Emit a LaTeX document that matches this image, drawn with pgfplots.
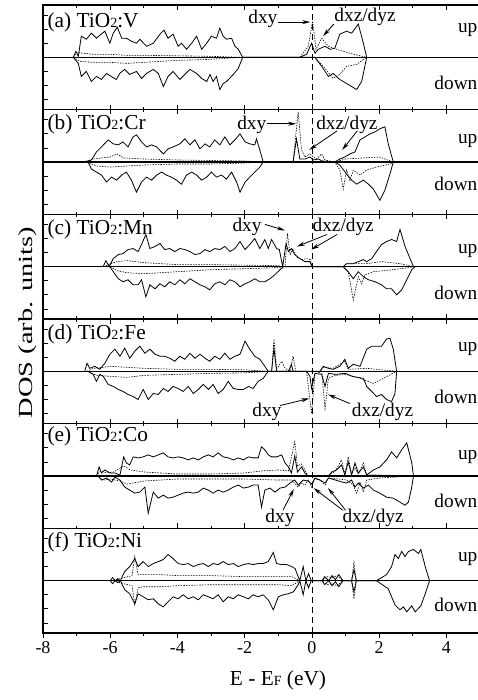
\documentclass[border=0pt]{standalone}
\usepackage{fontspec}
\setmainfont{Liberation Serif}
\usepackage{pgfplots}
\pgfplotsset{compat=1.18}
\usetikzlibrary{arrows.meta}
\newcommand{\sm}[1]{{\fontsize{10.5}{11}\selectfont #1}}
\newcommand{\lab}{\fontsize{16}{17}\selectfont}
\newcommand{\ud}{\fontsize{14.5}{15}\selectfont}
\newcommand{\ann}{\fontsize{14.5}{15}\selectfont}
\pgfplotsset{
  panel/.style={
    scale only axis, width=327.75pt, height=78.5pt,
    anchor=north west, clip=false,
    xmin=-8, xmax=5, ymin=-52, ymax=52,
    xtick={-8,-6,-4,-2,0,2,4}, minor xtick={-7,-5,-3,-1,1,3,5},
    xticklabels={},
    ytick={-42,-28,-14,0,14,28,42}, yticklabels={}, ytick pos=left,
    tick align=inside, major tick length=3.5pt, minor tick length=2pt,
    every tick/.style={black, line width=0.6pt},
    axis line style={line width=0.9pt},
  },
  tot/.style={black, line width=0.6pt, mark=none},
  par/.style={black, line width=0.45pt, dash pattern=on 1.1pt off 0.9pt, mark=none},
  zl/.style={black, line width=0.9pt, mark=none},
  vl/.style={black, line width=0.6pt, dash pattern=on 4.5pt off 3pt, mark=none},
}
\tikzset{arr/.style={-{Stealth[length=6pt,width=3pt]}, line width=0.6pt}}
\begin{document}
\begin{tikzpicture}
\useasboundingbox (0,0) rectangle (358.5pt,-525pt);

% (a) V
\begin{axis}[panel, at={(32.25pt,-3.75pt)}]
\addplot[zl] coordinates {(-8,0)(5,0)};
\addplot[vl] coordinates {(0,-52)(0,52)};
\addplot[tot] coordinates {(-7.10,0)(-7.02,6)(-6.95,1)(-6.86,21)(-6.71,18)(-6.56,24)(-6.41,19)(-6.31,22)(-6.16,26)(-6.01,14)(-5.91,24)(-5.79,30)(-5.66,19)(-5.52,19)(-5.37,16)(-5.22,14)(-5.12,18)(-4.92,11)(-4.72,14)(-4.52,23)(-4.40,27)(-4.28,19)(-4.13,23)(-3.98,11)(-3.88,14)(-3.73,8)(-3.58,14)(-3.43,21)(-3.28,8)(-3.13,14)(-2.99,21)(-2.84,19)(-2.74,29)(-2.64,21)(-2.54,18)(-2.39,19)(-2.29,11)(-2.19,8)(-2.06,0)(-0.36,0)(-0.16,3)(-0.01,14)(0.09,4)(0.19,8)(0.39,11)(0.54,8)(0.68,9)(0.83,23)(1.03,26)(1.18,24)(1.38,33)(1.53,14)(1.63,0)};
\addplot[tot] coordinates {(-7.10,0)(-6.95,-6)(-6.86,-19)(-6.71,-14)(-6.56,-24)(-6.41,-19)(-6.26,-22)(-6.11,-16)(-5.97,-19)(-5.82,-22)(-5.72,-16)(-5.57,-12)(-5.42,-17)(-5.22,-14)(-5.07,-21)(-4.92,-16)(-4.72,-12)(-4.57,-16)(-4.42,-29)(-4.28,-19)(-4.13,-14)(-3.93,-22)(-3.78,-17)(-3.63,-12)(-3.43,-16)(-3.28,-21)(-3.13,-24)(-3.03,-17)(-2.94,-24)(-2.84,-19)(-2.74,-32)(-2.64,-26)(-2.54,-24)(-2.34,-17)(-2.19,-11)(-2.06,0)(0.09,0)(0.29,-9)(0.49,-19)(0.63,-16)(0.83,-22)(1.08,-27)(1.33,-32)(1.48,-24)(1.63,0)};
\addplot[par] coordinates {(-7.10,0)(-7.0,5)(-6.8,4)(-6.5,3)(-6.0,3)(-5.5,2)(-5,2)(-4,1.5)(-3,1)(-2.1,0)(-0.36,0)(-0.11,11)(0.02,36)(0.12,8)(0.29,19)(0.49,11)(0.73,8)(1.13,4)(1.63,0)};
\addplot[par] coordinates {(-7.10,0)(-6.9,-4)(-6.5,-5)(-6.0,-5)(-5.5,-6)(-5.0,-5)(-4.5,-4)(-4,-3)(-3,-2)(-2.1,0)(0.09,0)(0.39,-11)(0.63,-21)(0.83,-17)(1.03,-9)(1.33,-7)(1.63,0)};
\node[anchor=north west, inner sep=0pt, font=\lab] at (rel axis cs:0.01,0.93) {(a) TiO\sm{2}:V};
\node[anchor=base east, inner sep=0pt, font=\ud] at (axis cs:4.93,25) {up};
\node[anchor=base east, inner sep=0pt, font=\ud] at (axis cs:4.93,-32) {down};
\node[font=\ann, inner sep=0pt] at (axis cs:-1.46,38) {dxy};
\draw[arr] (axis cs:-1.0,35) -- (axis cs:-0.05,35);
\node[font=\ann, inner sep=0pt] at (axis cs:1.58,40) {dxz/dyz};
\draw[arr] (axis cs:0.65,33) -- (axis cs:0.33,21);
\end{axis}

% (b) Cr
\begin{axis}[panel, at={(32.25pt,-82.25pt)}]
\addplot[zl] coordinates {(-8,0)(5,0)};
\addplot[vl] coordinates {(0,-52)(0,52)};
\addplot[tot] coordinates {(-6.76,0)(-6.56,2)(-6.41,10)(-6.26,15)(-6.06,22)(-5.91,18)(-5.76,17)(-5.62,20)(-5.47,15)(-5.32,25)(-5.22,27)(-5.07,20)(-4.92,15)(-4.77,17)(-4.62,15)(-4.42,8)(-4.28,13)(-4.13,15)(-3.93,18)(-3.78,23)(-3.63,17)(-3.48,22)(-3.33,13)(-3.18,18)(-3.04,15)(-2.89,22)(-2.74,17)(-2.59,25)(-2.44,17)(-2.29,22)(-2.14,28)(-1.99,20)(-1.85,18)(-1.70,17)(-1.65,23)(-1.55,12)(-1.45,0)(-0.56,0)(-0.46,23)(-0.36,3)(-0.21,3)(-0.06,5)(0.04,2)(0.2,3)(0.3,1)(0.68,0)(0.83,3)(0.98,5)(1.13,8)(1.28,10)(1.43,22)(1.58,25)(1.73,28)(1.88,30)(2.02,33)(2.17,35)(2.27,18)(2.42,0)};
\addplot[tot] coordinates {(-6.66,0)(-6.56,-7)(-6.41,-10)(-6.26,-13)(-6.11,-20)(-5.96,-15)(-5.81,-18)(-5.66,-13)(-5.52,-10)(-5.37,-18)(-5.22,-30)(-5.07,-20)(-4.92,-15)(-4.77,-18)(-4.62,-13)(-4.47,-10)(-4.33,-13)(-4.18,-15)(-4.03,-18)(-3.88,-22)(-3.73,-13)(-3.58,-10)(-3.43,-13)(-3.28,-18)(-3.13,-15)(-2.99,-10)(-2.84,-15)(-2.69,-13)(-2.54,-17)(-2.39,-10)(-2.24,-20)(-2.14,-30)(-1.99,-20)(-1.85,-15)(-1.70,-10)(-1.55,-5)(-1.45,0)(0.68,0)(0.83,-3)(1.03,-12)(1.18,-18)(1.33,-22)(1.53,-18)(1.68,-22)(1.83,-27)(2.02,-38)(2.17,-28)(2.32,-12)(2.42,0)};
\addplot[par] coordinates {(-6.8,0)(-6.5,3)(-6,5)(-5.8,8)(-5.6,4)(-5,3)(-4,2)(-3,1.5)(-2,1)(-1.45,0)(-0.56,0)(-0.41,50)(-0.31,12)(-0.21,5)(-0.06,8)(0.04,5)(0.14,3)(0.29,8)(0.39,2)(0.68,0)(1.0,3)(1.5,4)(2.0,5)(2.42,0)};
\addplot[par] coordinates {(-6.7,0)(-6.4,-4)(-6,-5)(-5.5,-4)(-5,-3)(-4,-2)(-3,-2)(-2,-1)(-1.45,0)(0.68,0)(0.83,-8)(0.93,-27)(1.03,-8)(1.13,-18)(1.23,-8)(1.43,-13)(1.63,-8)(1.92,-5)(2.32,-2)(2.42,0)};
\node[anchor=north west, inner sep=0pt, font=\lab] at (rel axis cs:0.01,0.955) {(b) TiO\sm{2}:Cr};
\node[anchor=base east, inner sep=0pt, font=\ud] at (axis cs:4.93,18) {up};
\node[anchor=base east, inner sep=0pt, font=\ud] at (axis cs:4.93,-28) {down};
\node[font=\ann, inner sep=0pt] at (axis cs:-1.79,37) {dxy};
\draw[arr] (axis cs:-1.34,38) -- (axis cs:-0.47,38);
\node[font=\ann, inner sep=0pt] at (axis cs:1.04,37) {dxz/dyz};
\draw[arr] (axis cs:0.75,31) -- (axis cs:-0.08,12);
\draw[arr] (axis cs:1.35,31) -- (axis cs:0.9,12);
\end{axis}

% (c) Mn
\begin{axis}[panel, at={(32.25pt,-160.75pt)}]
\addplot[zl] coordinates {(-8,0)(5,0)};
\addplot[vl] coordinates {(0,-52)(0,52)};
\addplot[tot] coordinates {(-6.21,0)(-6.13,6)(-6.03,0)(-5.91,8)(-5.76,12)(-5.62,13)(-5.47,17)(-5.32,18)(-5.17,15)(-5.07,22)(-4.94,32)(-4.82,18)(-4.67,20)(-4.52,23)(-4.38,17)(-4.23,18)(-4.08,15)(-3.93,18)(-3.78,17)(-3.63,15)(-3.48,12)(-3.33,13)(-3.18,17)(-3.04,15)(-2.89,18)(-2.74,17)(-2.59,20)(-2.44,15)(-2.29,18)(-2.14,25)(-1.99,17)(-1.85,22)(-1.70,28)(-1.55,18)(-1.40,27)(-1.30,18)(-1.20,27)(-1.05,18)(-0.97,17)(-0.87,0)(-0.77,23)(-0.70,15)(-0.61,18)(-0.51,12)(-0.36,8)(-0.21,5)(-0.06,5)(0,0)(0.93,0)(1.03,3)(1.23,3)(1.38,5)(1.53,7)(1.63,5)(1.78,8)(1.92,15)(2.07,22)(2.22,25)(2.37,27)(2.52,25)(2.62,37)(2.77,20)(2.92,8)(3.02,0)};
\addplot[tot] coordinates {(-6.01,0)(-5.91,-5)(-5.76,-12)(-5.62,-15)(-5.47,-13)(-5.32,-18)(-5.17,-18)(-5.07,-13)(-4.94,-30)(-4.82,-18)(-4.67,-22)(-4.52,-17)(-4.38,-20)(-4.23,-15)(-4.08,-18)(-3.93,-13)(-3.78,-17)(-3.63,-12)(-3.48,-15)(-3.33,-18)(-3.18,-20)(-3.04,-23)(-2.89,-17)(-2.74,-15)(-2.59,-18)(-2.44,-13)(-2.29,-15)(-2.14,-20)(-1.99,-17)(-1.85,-15)(-1.70,-12)(-1.55,-15)(-1.40,-15)(-1.25,-12)(-1.10,-8)(-0.95,-3)(-0.85,0)(0.93,0)(1.08,-5)(1.23,-12)(1.38,-5)(1.53,-10)(1.68,-13)(1.88,-15)(2.07,-18)(2.22,-22)(2.37,-22)(2.52,-28)(2.67,-23)(2.82,-13)(2.97,-3)(3.07,0)};
\addplot[par] coordinates {(-6.2,0)(-6.0,3)(-5.8,5)(-5.5,6)(-5.0,4)(-4.5,3)(-4,2)(-3,2)(-2,1.5)(-1,1)(-0.87,0)(-0.80,0)(-0.73,33)(-0.65,12)(-0.56,18)(-0.46,10)(-0.31,7)(-0.16,8)(-0.04,7)(0,0)(0.93,0)(1.03,3)(1.63,3)(2.07,5)(2.62,3)(3.02,0)};
\addplot[par] coordinates {(-6.0,0)(-5.8,-4)(-5.5,-6)(-5,-7)(-4.5,-6)(-4,-5)(-3,-3)(-2,-2)(-1,-1)(-0.85,0)(0.93,0)(1.08,-5)(1.23,-33)(1.38,-10)(1.48,-17)(1.58,-8)(1.83,-5)(2.42,-3)(3.07,0)};
\node[anchor=north west, inner sep=0pt, font=\lab] at (rel axis cs:0.01,0.955) {(c) TiO\sm{2}:Mn};
\node[anchor=base east, inner sep=0pt, font=\ud] at (axis cs:4.93,13) {up};
\node[anchor=base east, inner sep=0pt, font=\ud] at (axis cs:4.93,-33) {down};
\node[font=\ann, inner sep=0pt] at (axis cs:-1.93,40) {dxy};
\draw[arr] (axis cs:-1.4,42) -- (axis cs:-0.8,36);
\node[font=\ann, inner sep=0pt] at (axis cs:0.93,40) {dxz/dyz};
\draw[arr] (axis cs:0.45,32) -- (axis cs:-0.45,20);
\draw[arr] (axis cs:0.75,32) -- (axis cs:-0.02,17);
\end{axis}

% (d) Fe
\begin{axis}[panel, at={(32.25pt,-239.25pt)}]
\addplot[zl] coordinates {(-8,0)(5,0)};
\addplot[vl] coordinates {(0,-52)(0,52)};
\addplot[tot] coordinates {(-6.76,0)(-6.69,8)(-6.61,3)(-6.46,5)(-6.31,2)(-6.16,8)(-6.01,17)(-5.86,22)(-5.71,15)(-5.57,23)(-5.42,13)(-5.27,20)(-5.12,25)(-4.97,18)(-4.82,22)(-4.67,17)(-4.52,15)(-4.38,15)(-4.23,13)(-4.08,10)(-3.93,15)(-3.78,12)(-3.63,18)(-3.48,13)(-3.33,17)(-3.18,13)(-3.04,10)(-2.89,15)(-2.74,12)(-2.59,18)(-2.44,12)(-2.29,15)(-2.14,17)(-1.99,30)(-1.85,22)(-1.70,15)(-1.55,12)(-1.40,5)(-1.30,0)(-1.20,0)(-1.13,23)(-1.05,0)(-0.70,0)(-0.61,7)(-0.56,0)(0.24,0)(0.34,5)(0.49,3)(0.63,2)(0.83,5)(0.98,12)(1.08,3)(1.23,7)(1.43,5)(1.63,22)(1.78,25)(1.92,25)(2.07,25)(2.22,32)(2.32,33)(2.42,22)(2.52,0)};
\addplot[tot] coordinates {(-6.66,0)(-6.51,-3)(-6.41,-10)(-6.31,-3)(-6.21,-5)(-6.06,-13)(-5.91,-15)(-5.76,-18)(-5.62,-20)(-5.47,-23)(-5.32,-25)(-5.17,-28)(-5.02,-18)(-4.87,-28)(-4.72,-22)(-4.57,-23)(-4.42,-17)(-4.28,-20)(-4.13,-15)(-3.98,-17)(-3.83,-20)(-3.68,-15)(-3.53,-22)(-3.38,-18)(-3.23,-13)(-3.08,-18)(-2.94,-13)(-2.79,-22)(-2.64,-18)(-2.49,-10)(-2.34,-17)(-2.19,-18)(-2.04,-18)(-1.89,-15)(-1.75,-17)(-1.60,-10)(-1.45,-7)(-1.30,0)(-0.16,0)(-0.06,-5)(-0.01,-17)(0.09,-2)(0.29,-3)(0.39,-15)(0.49,-2)(0.7,-3)(1.0,-2)(1.2,-5)(1.53,-7)(1.63,-15)(1.78,-20)(1.92,-25)(2.07,-23)(2.22,-28)(2.37,-30)(2.47,-22)(2.52,0)};
\addplot[par] coordinates {(-6.7,0)(-6.5,3)(-6.2,4)(-6.0,5)(-5.5,4)(-5,3)(-4,2)(-3,2)(-2,1.5)(-1.3,0)(-1.20,0)(-1.13,32)(-1.05,2)(-0.9,10)(-0.8,3)(-0.65,0)(-0.56,15)(-0.48,0)(0.24,0)(0.34,4)(0.63,3)(0.98,10)(1.08,2)(1.63,3)(2.52,0)};
\addplot[par] coordinates {(-6.7,0)(-6.4,-4)(-6,-5)(-5.5,-6)(-5,-4)(-4,-3)(-3,-2)(-2,-1.5)(-1.3,0)(-0.16,0)(-0.01,-42)(0.09,-3)(0.29,0)(0.39,-37)(0.49,-7)(0.7,-4)(1.0,-3)(1.43,-7)(1.83,-12)(2.07,-8)(2.52,0)};
\node[anchor=north west, inner sep=0pt, font=\lab] at (rel axis cs:0.01,0.945) {(d) TiO\sm{2}:Fe};
\node[anchor=base east, inner sep=0pt, font=\ud] at (axis cs:4.93,20) {up};
\node[anchor=base east, inner sep=0pt, font=\ud] at (axis cs:4.93,-32) {down};
\node[font=\ann, inner sep=0pt] at (axis cs:-1.34,-40) {dxy};
\draw[arr] (axis cs:-0.95,-34) -- (axis cs:-0.08,-27);
\node[font=\ann, inner sep=0pt] at (axis cs:2.1,-40) {dxz/dyz};
\draw[arr] (axis cs:1.13,-32) -- (axis cs:0.48,-23);
\end{axis}

% (e) Co
\begin{axis}[panel, at={(32.25pt,-317.75pt)}]
\addplot[zl] coordinates {(-8,0)(5,0)};
\addplot[vl] coordinates {(0,-52)(0,52)};
\addplot[tot] coordinates {(-6.41,0)(-6.33,9)(-6.26,3)(-6.16,6)(-6.01,3)(-5.86,3)(-5.71,1)(-5.60,19)(-5.52,13)(-5.42,11)(-5.32,19)(-5.17,18)(-5.02,19)(-4.87,21)(-4.72,19)(-4.57,21)(-4.42,23)(-4.28,19)(-4.13,18)(-3.98,19)(-3.83,18)(-3.68,16)(-3.53,18)(-3.38,16)(-3.23,19)(-3.08,21)(-2.94,19)(-2.79,23)(-2.64,19)(-2.49,18)(-2.34,16)(-2.19,18)(-2.04,16)(-1.89,19)(-1.75,18)(-1.60,18)(-1.50,29)(-1.40,26)(-1.30,21)(-1.20,19)(-1.05,19)(-0.90,21)(-0.80,13)(-0.70,9)(-0.61,3)(-0.51,20)(-0.43,4)(-0.31,9)(-0.21,3)(-0.11,0)(0.49,0)(0.59,4)(0.73,6)(0.88,11)(0.98,1)(1.08,14)(1.18,1)(1.28,13)(1.38,3)(1.53,9)(1.63,1)(1.83,6)(2.02,9)(2.22,16)(2.37,24)(2.52,18)(2.67,26)(2.82,33)(2.97,13)(3.02,0)};
\addplot[tot] coordinates {(-6.36,0)(-6.26,-4)(-6.11,-2)(-5.96,-6)(-5.86,-1)(-5.71,-4)(-5.57,-11)(-5.42,-14)(-5.27,-17)(-5.12,-16)(-4.97,-11)(-4.87,-37)(-4.72,-16)(-4.57,-22)(-4.42,-19)(-4.28,-22)(-4.13,-21)(-3.98,-19)(-3.83,-17)(-3.68,-16)(-3.53,-17)(-3.38,-16)(-3.23,-12)(-3.08,-14)(-2.94,-17)(-2.79,-14)(-2.64,-16)(-2.49,-14)(-2.34,-11)(-2.19,-9)(-2.04,-12)(-1.89,-11)(-1.75,-9)(-1.60,-9)(-1.50,-31)(-1.40,-14)(-1.25,-12)(-1.10,-16)(-0.95,-12)(-0.80,-11)(-0.65,-7)(-0.51,-4)(-0.41,-9)(-0.26,-4)(-0.11,-5)(-0.01,-8)(0.09,-2)(0.24,-4)(0.39,-7)(0.49,-2)(0.7,-4)(0.9,-6)(1.03,-7)(1.18,-4)(1.28,-11)(1.38,-7)(1.53,-12)(1.68,-9)(1.83,-14)(2.02,-17)(2.22,-21)(2.42,-22)(2.62,-26)(2.77,-29)(2.87,-26)(2.97,-11)(3.02,0)};
\addplot[par] coordinates {(-6.4,0)(-6.3,5)(-6.1,3)(-5.9,4)(-5.6,10)(-5.4,6)(-5.0,4)(-4.5,3)(-4,2)(-3,2)(-2,3)(-1.5,5)(-1,6)(-0.7,5)(-0.51,34)(-0.43,10)(-0.31,12)(-0.11,0)(0.49,0)(0.7,5)(0.88,16)(0.98,2)(1.08,19)(1.18,2)(1.28,8)(1.38,2)(1.53,13)(1.63,1)(2.0,1)(3.02,0)};
\addplot[par] coordinates {(-6.4,0)(-6.2,-4)(-6,-3)(-5.7,-5)(-5.5,-8)(-5,-5)(-4.5,-4)(-4,-3)(-3,-3)(-2,-3)(-1,-4)(-0.6,-4)(-0.41,-11)(-0.31,-7)(-0.21,-9)(-0.11,-4)(-0.01,-11)(0.09,-3)(0.24,-4)(0.39,-9)(0.49,-2)(0.8,-3)(1.03,-4)(1.23,-9)(1.33,-17)(1.43,-6)(1.53,-16)(1.63,-4)(2.0,-2)(3.02,0)};
\node[anchor=north west, inner sep=0pt, font=\lab] at (rel axis cs:0.01,0.97) {(e) TiO\sm{2}:Co};
\node[anchor=base east, inner sep=0pt, font=\ud] at (axis cs:4.93,16) {up};
\node[anchor=base east, inner sep=0pt, font=\ud] at (axis cs:4.93,-31) {down};
\node[font=\ann, inner sep=0pt] at (axis cs:-0.95,-42) {dxy};
\draw[arr] (axis cs:-0.86,-34) -- (axis cs:-0.54,-13);
\node[font=\ann, inner sep=0pt] at (axis cs:1.82,-42) {dxz/dyz};
\draw[arr] (axis cs:0.92,-34) -- (axis cs:0.05,-12);
\draw[arr] (axis cs:1.0,-34) -- (axis cs:0.48,-12);
\end{axis}

% (f) Ni
\begin{axis}[panel, at={(32.25pt,-396.25pt)}, xticklabels={-8,-6,-4,-2,0,2,4},
  xtick align=outside, major tick length=4pt,
  xticklabel style={font=\fontsize{13.5}{14}\selectfont, inner sep=2pt}]
\addplot[zl] coordinates {(-8,0)(5,0)};
\addplot[vl] coordinates {(0,-52)(0,52)};
\addplot[tot] coordinates {(-6.0,0)(-5.93,3)(-5.85,0)(-5.78,2)(-5.70,0)(-5.57,9)(-5.42,14)(-5.27,22)(-5.17,14)(-5.02,19)(-4.87,14)(-4.72,17)(-4.57,19)(-4.42,21)(-4.28,26)(-4.13,22)(-3.98,17)(-3.83,16)(-3.68,17)(-3.53,14)(-3.38,16)(-3.23,17)(-3.08,14)(-2.94,17)(-2.79,16)(-2.64,19)(-2.49,16)(-2.34,17)(-2.19,14)(-2.04,16)(-1.89,17)(-1.75,16)(-1.60,17)(-1.45,17)(-1.30,19)(-1.15,28)(-1.05,17)(-0.90,16)(-0.75,16)(-0.60,14)(-0.50,12)(-0.41,4)(-0.36,0)(-0.26,14)(-0.18,0)(-0.10,7)(-0.02,0)(0.30,0)(0.38,4)(0.50,0)(0.60,5)(0.70,1)(0.80,6)(0.92,0)(1.18,0)(1.25,11)(1.32,0)(1.92,0)(2.22,6)(2.37,14)(2.47,26)(2.57,22)(2.67,29)(2.77,24)(2.87,29)(3.02,31)(3.17,27)(3.24,31)(3.37,14)(3.50,0)};
\addplot[tot] coordinates {(-6.0,0)(-5.93,-3)(-5.85,0)(-5.78,-2)(-5.70,0)(-5.57,-9)(-5.42,-13)(-5.27,-23)(-5.17,-13)(-5.02,-16)(-4.87,-19)(-4.72,-18)(-4.57,-23)(-4.42,-26)(-4.28,-21)(-4.13,-16)(-3.98,-18)(-3.83,-14)(-3.68,-18)(-3.53,-16)(-3.38,-19)(-3.23,-14)(-3.08,-16)(-2.94,-18)(-2.79,-14)(-2.64,-21)(-2.49,-16)(-2.34,-18)(-2.19,-14)(-2.04,-16)(-1.89,-18)(-1.75,-14)(-1.60,-16)(-1.45,-14)(-1.30,-19)(-1.15,-29)(-1.00,-16)(-0.85,-14)(-0.70,-13)(-0.55,-11)(-0.41,-4)(-0.36,0)(-0.26,-14)(-0.18,0)(-0.10,-7)(-0.02,0)(0.30,0)(0.38,-4)(0.50,0)(0.60,-5)(0.70,-1)(0.80,-6)(0.92,0)(1.18,0)(1.25,-11)(1.32,0)(1.92,0)(2.27,-8)(2.47,-24)(2.62,-29)(2.72,-26)(2.82,-31)(2.97,-25)(3.07,-31)(3.24,-25)(3.37,-13)(3.50,0)};
\addplot[par] coordinates {(-5.9,0)(-5.6,3)(-5.35,5)(-5.27,24)(-5.17,6)(-5.0,6)(-4.5,6)(-4,5)(-3,5)(-2,4)(-1,4)(-0.6,4)(-0.41,1)(-0.36,0)(0.3,0)(0.45,4)(0.6,3)(0.75,5)(0.92,0)(1.18,0)(1.25,18)(1.32,0)(3.5,0)};
\addplot[par] coordinates {(-5.9,0)(-5.6,-3)(-5.35,-5)(-5.27,-24)(-5.17,-7)(-5.0,-6)(-4.5,-6)(-4,-5)(-3,-4)(-2,-4)(-1,-4)(-0.6,-5)(-0.41,-1)(-0.36,0)(0.3,0)(0.45,-4)(0.6,-3)(0.75,-5)(0.92,0)(1.18,0)(1.25,-18)(1.32,0)(3.5,0)};
\node[anchor=north west, inner sep=0pt, font=\lab] at (rel axis cs:0.01,0.965) {(f) TiO\sm{2}:Ni};
\node[anchor=base east, inner sep=0pt, font=\ud] at (axis cs:4.93,19) {up};
\node[anchor=base east, inner sep=0pt, font=\ud] at (axis cs:4.93,-31) {down};
\end{axis}

\node[transform shape, rotate=90, xscale=1.42, inner sep=0pt, font=\fontsize{15}{15}\selectfont] at (20.5pt,-242pt) {DOS (arb. units)};
\node[inner sep=0pt, font=\fontsize{16}{16}\selectfont] at (208.5pt,-510pt) {E - E\sm{F} (eV)};
\end{tikzpicture}
\end{document}
